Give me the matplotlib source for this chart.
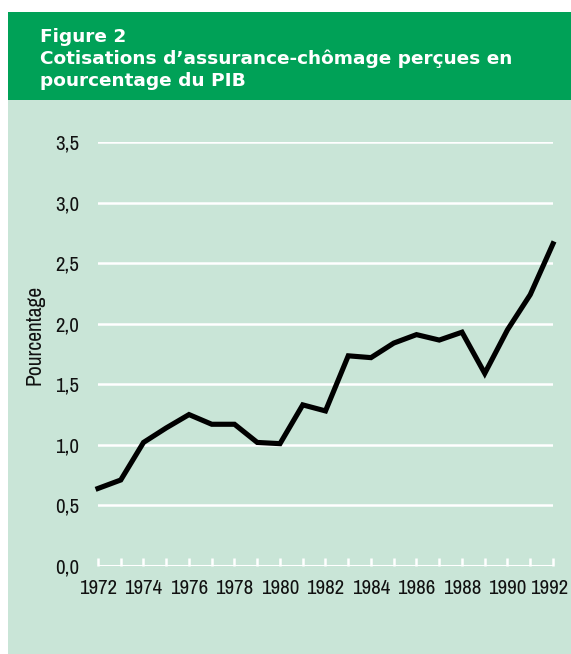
import matplotlib
matplotlib.use("Agg")
import matplotlib.pyplot as plt
from matplotlib.patches import Rectangle
from matplotlib.ticker import MultipleLocator, FuncFormatter
from matplotlib.transforms import ScaledTranslation
from matplotlib import font_manager as fm

years = list(range(1972, 1993))
values = [0.64, 0.71, 1.02, 1.14, 1.25, 1.17, 1.17, 1.02, 1.01, 1.33, 1.28,
          1.735, 1.72, 1.84, 1.91, 1.865, 1.93, 1.59, 1.95, 2.24, 2.66]
yticks = [0.0, 0.5, 1.0, 1.5, 2.0, 2.5, 3.0, 3.5]
xticks = list(range(1972, 1993, 2))
title_lines = ["Figure 2", "Cotisations d\u2019assurance-chômage perçues en", "pourcentage du PIB"]
ylabel = "Pourcentage"

HEADER = "#00A157"
PANEL = "#C9E5D7"
NARROW = ["Archivo Narrow", "DejaVu Sans"]
xtick_fp = fm.FontProperties(family=NARROW, size=15)
ytick_fp = fm.FontProperties(family=NARROW, size=15)
ylab_fp = fm.FontProperties(family=NARROW, size=15.5)
title_fp = fm.FontProperties(family=["DejaVu Sans"], weight="bold", size=13.3)

W, H = 571, 654
fig = plt.figure(figsize=(W / 100, H / 100), dpi=100)
fig.patch.set_facecolor("white")

fig.add_artist(Rectangle((8 / W, 0), 1 - 8 / W, (H - 100) / H, transform=fig.transFigure,
                         facecolor=PANEL, edgecolor="none", zorder=0))
fig.add_artist(Rectangle((8 / W, (H - 100) / H), 1 - 8 / W, 88 / H, transform=fig.transFigure,
                         facecolor=HEADER, edgecolor="none", zorder=0))
for i, line in enumerate(title_lines):
    fig.text(40 / W, 1 - (42 + 22 * i) / H, line, color="white", fontproperties=title_fp,
             ha="left", va="baseline")

ax = fig.add_axes([98 / W, 88 / H, 455 / W, 424 / H])
ax.set_facecolor("none")
ax.set_xlim(1972, 1992)
ax.set_ylim(0, 3.5)
for s in ax.spines.values():
    s.set_visible(False)

for y in yticks[1:]:
    ax.axhline(y, color="white", lw=1.8, zorder=1)
ax.axhline(0, color="white", lw=2.2, zorder=1)

ax.plot(years, values, color="black", lw=3.7, solid_joinstyle="miter", zorder=3, clip_on=False)

ax.set_yticks(yticks)
ax.yaxis.set_major_formatter(FuncFormatter(lambda v, p: f"{v:.1f}".replace(".", ",")))
ax.tick_params(axis="y", length=0, pad=13.5)
ax.set_xticks(xticks)
ax.xaxis.set_minor_locator(MultipleLocator(1))
ax.tick_params(axis="x", which="both", direction="in", length=5.5, width=1.8, color="white",
               pad=9.5)
for lab in ax.get_xticklabels():
    lab.set_fontproperties(xtick_fp)
    lab.set_color("#111111")
for lab in ax.get_yticklabels():
    lab.set_fontproperties(ytick_fp)
    lab.set_color("#111111")

fig.canvas.draw()
last = ax.xaxis.get_major_ticks()[-1].label1
last.set_transform(last.get_transform() + ScaledTranslation(-4 / 100, 0, fig.dpi_scale_trans))

fig.text(35 / W, 1 - 335 / H, ylabel, rotation=90, ha="center", va="center",
         fontproperties=ylab_fp, color="#111111")

fig.savefig("out.png", dpi=100, facecolor="white")
